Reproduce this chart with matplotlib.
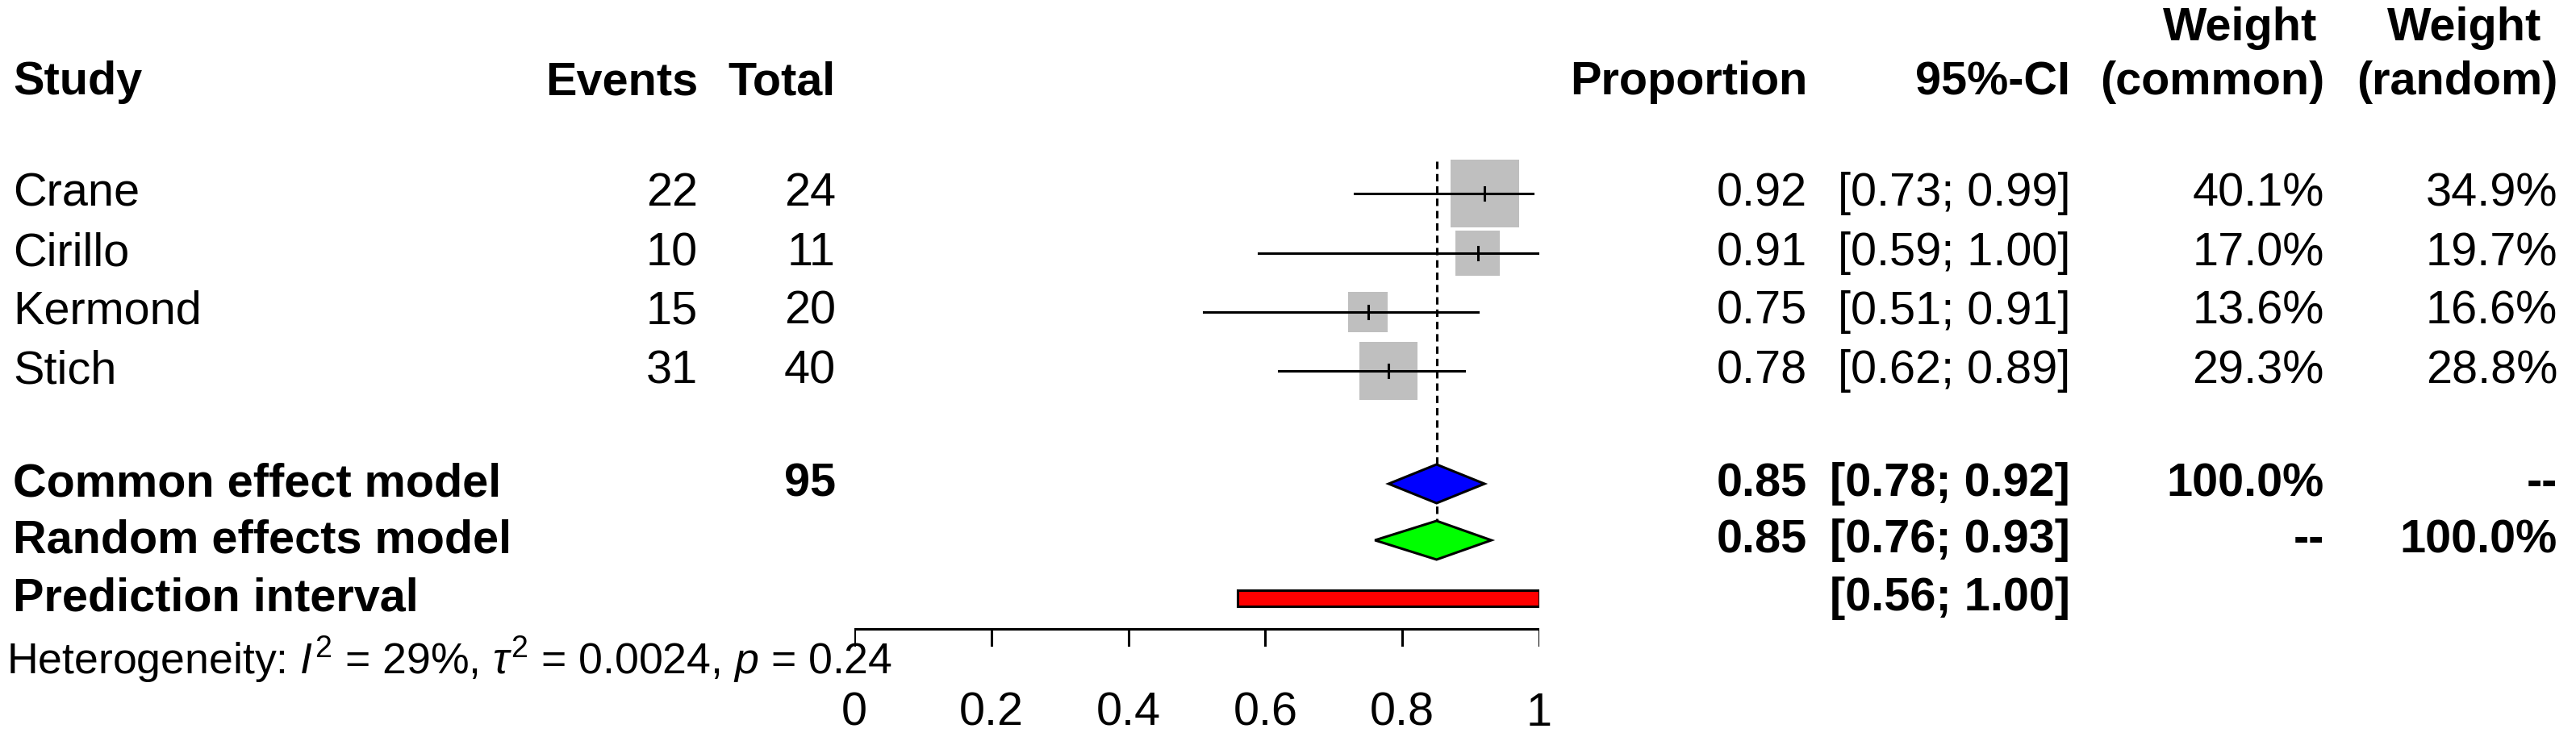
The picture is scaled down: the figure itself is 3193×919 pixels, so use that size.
import matplotlib
matplotlib.use("Agg")
import matplotlib.pyplot as plt
import matplotlib.patches as patches
import numpy as np
from matplotlib.transforms import blended_transform_factory

plt.rcParams['font.family'] = ['Liberation Sans', 'DejaVu Sans']
plt.rcParams['mathtext.fontset'] = 'custom'
plt.rcParams['mathtext.rm'] = 'Liberation Sans'
plt.rcParams['mathtext.it'] = 'Liberation Sans:italic'

# -------------- data --------------
studies = ['Crane', 'Cirillo', 'Kermond', 'Stich']
events = [22, 10, 15, 31]
totals = [24, 11, 20, 40]
prop = [0.92, 0.91, 0.75, 0.78]
lower = [0.73, 0.59, 0.51, 0.62]
upper = [0.99, 1.00, 0.91, 0.89]
w_common = [40.1, 17.0, 13.6, 29.3]
w_random = [34.9, 19.7, 16.6, 28.8]

common = (0.85, 0.78, 0.92)
random_eff = (0.85, 0.76, 0.93)
pred = (0.56, 1.00)
ticks = [0, 0.2, 0.4, 0.6, 0.8, 1]

W, H = 3193, 919
fs = 41.5
lw = 2.2
fig = plt.figure(figsize=(W / 100, H / 100), dpi=100)
x0, x1 = 1059, 1908
ax = fig.add_axes([x0 / W, 0, (x1 - x0) / W, 1])
ax.set_xlim(0, 1)
ax.set_ylim(H, 0)
ax.axis('off')
tr = blended_transform_factory(fig.transFigure, ax.transData)

def txt(xpx, y, s, ha='left', bold=False):
    ax.text(xpx / W, y, s, transform=tr, ha=ha, va='center', fontsize=fs,
            fontweight='bold' if bold else 'normal')

# -------------- headers --------------
txt(2872, 35, 'Weight', 'right', True)
txt(3150, 35, 'Weight', 'right', True)
y_head = 102
txt(16, y_head, 'Study', bold=True)
txt(865, y_head, 'Events', 'right', True)
txt(1036, y_head, 'Total', 'right', True)
txt(2240, y_head, 'Proportion', 'right', True)
txt(2566, y_head, '95%-CI', 'right', True)
txt(2881, y_head, '(common)', 'right', True)
txt(3170, y_head, '(random)', 'right', True)

# -------------- studies --------------
rows = [240, 314, 387, 460]
px_per_x = (x1 - x0)
for i, y in enumerate(rows):
    txt(16, y, studies[i])
    txt(865, y, str(events[i]), 'right')
    txt(1036, y, str(totals[i]), 'right')
    txt(2240, y, f'{prop[i]:.2f}', 'right')
    txt(2566, y, f'[{lower[i]:.2f}; {upper[i]:.2f}]', 'right')
    txt(2881, y, f'{w_common[i]:.1f}%', 'right')
    txt(3170, y, f'{w_random[i]:.1f}%', 'right')
    s = 13.4 * np.sqrt(w_common[i])
    ax.add_patch(patches.Rectangle((prop[i] - s / 2 / px_per_x, y - s / 2), s / px_per_x, s,
                                   fc='#bfbfbf', ec='none', zorder=2))
    ax.plot([lower[i], upper[i]], [y, y], color='black', lw=lw, zorder=3)
    ax.plot([prop[i], prop[i]], [y - 8, y + 8], color='black', lw=lw, zorder=3)

# -------------- summaries --------------
yc, yr, yp = 600, 670, 742
txt(16, yc, 'Common effect model', bold=True)
txt(1036, yc, str(sum(totals)), 'right', True)
txt(2240, yc, f'{common[0]:.2f}', 'right', True)
txt(2566, yc, f'[{common[1]:.2f}; {common[2]:.2f}]', 'right', True)
txt(2881, yc, '100.0%', 'right', True)
txt(3170, yc, '--', 'right', True)
txt(16, yr, 'Random effects model', bold=True)
txt(2240, yr, f'{random_eff[0]:.2f}', 'right', True)
txt(2566, yr, f'[{random_eff[1]:.2f}; {random_eff[2]:.2f}]', 'right', True)
txt(2881, yr, '--', 'right', True)
txt(3170, yr, '100.0%', 'right', True)
txt(16, yp, 'Prediction interval', bold=True)
txt(2566, yp, f'[{pred[0]:.2f}; {pred[1]:.2f}]', 'right', True)

dh = 24
for (est, lo, hi), y, col in [(common, yc, '#0000ff'), (random_eff, yr, '#00ff00')]:
    ax.add_patch(patches.Polygon([(lo, y), (est, y - dh), (hi, y), (est, y + dh)],
                                 closed=True, fc=col, ec='black', lw=lw, zorder=4))
ax.add_patch(patches.Rectangle((pred[0], yp - 10), pred[1] - pred[0], 20,
                               fc='#ff0000', ec='black', lw=lw, zorder=4))

ax.plot([common[0], common[0]], [200, 685], color='black', lw=lw, ls=(0, (3, 2)), zorder=3)

# -------------- x axis --------------
ya = 780
ax.plot([0, 1], [ya, ya], color='black', lw=lw)
for t in ticks:
    ax.plot([t, t], [ya, ya + 20], color='black', lw=lw)
    ax.text(t, 885, f'{t:g}', ha='center', va='center', fontsize=fs)

ax.text(8 / W, 818, r'Heterogeneity: $I^2$ = 29%, $\tau^2$ = 0.0024, $p$ = 0.24',
        transform=tr, ha='left', va='center', fontsize=fs * 0.93)

fig.savefig('out.png', dpi=100)
